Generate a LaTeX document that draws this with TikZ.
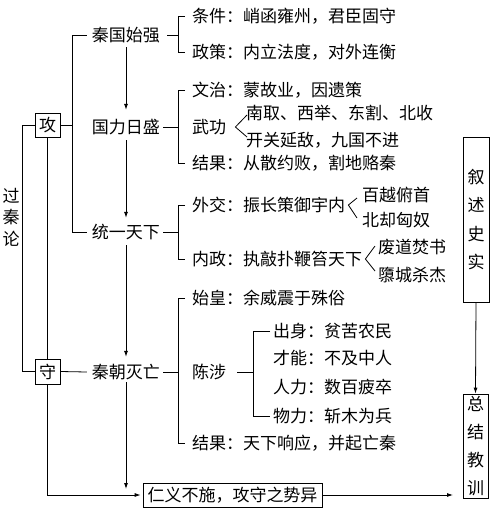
\documentclass[tikz,border=0pt]{standalone}
\usepackage{fontspec}
\setmainfont{Noto Sans CJK SC}
\usetikzlibrary{arrows.meta}
\begin{document}
\begin{tikzpicture}[x=1pt,y=-1pt,
  every node/.style={font=\fontsize{17}{20}\selectfont},
  lbl/.style={inner sep=0pt, text height=14.5pt, text depth=2.5pt, anchor=west},
  mid/.style={inner sep=0pt, text height=14.5pt, text depth=2.5pt},
  box/.style={draw, line width=0.8pt, inner sep=0pt},
  ln/.style={line width=0.8pt},
  arr/.style={line width=0.8pt, -{Latex[length=6pt,width=4pt]}}]
\fill[white] (0,0) rectangle (500,515);
\useasboundingbox (0,0) rectangle (500,515);
\coordinate (v0) at (22,0);
\coordinate (v1) at (72,0);
\coordinate (bx) at (178,0);
\coordinate (bx2) at (253,0);
% left part
\node[box, minimum width=25pt, minimum height=24pt] (gong) at (47.5,125) {攻};
\node[box, minimum width=25pt, minimum height=25pt] (shou) at (47.5,371.5) {守};
\node[align=center, inner sep=0pt, font=\fontsize{17}{21.5}\selectfont] (gql) at (11,217) {过\\秦\\论};
% main column
\node[mid] (qs) at (126,35) {秦国始强};
\node[mid] (gl) at (126,127) {国力日盛};
\node[mid] (ty) at (126,232) {统一天下};
\node[mid] (mw) at (126,372) {秦朝灭亡};
\node[box, minimum width=179pt, minimum height=24pt] (rj) at (232.5,495) {仁义不施，攻守之势异};
\node[box, minimum width=26pt, minimum height=165pt, align=center, font=\fontsize{17}{28.5}\selectfont] (xs) at (476,219.5) {叙\\述\\史\\实};
\node[box, minimum width=25pt, minimum height=104pt, align=center, font=\fontsize{17}{27.7}\selectfont] (zj) at (475.5,446) {总\\结\\教\\训};
\coordinate (endA) at (126,489);
\coordinate (endB) at (453,495);
% left connectors
\draw[ln] (gong.west) -- (gong.west -| v0) -- (shou.west -| v0) -- (shou.west);
\draw[ln] (gong.south) -- (shou.north);
\draw[ln] (gong.east) -- (gong.east -| v1);
\draw[ln] ([xshift=-5pt]qs.west) -- (qs.west -| v1) -- (ty.west -| v1) -- ([xshift=-5pt]ty.west);
\draw[ln] (shou.east) -- ([xshift=-5pt]mw.west);
\draw[arr] (shou.south) |- ([xshift=-2pt]rj.west);
% main arrows
\draw[arr] ([yshift=-3.5pt]qs.south) -- ([yshift=8.5pt]gl.north);
\draw[arr] ([yshift=-4.5pt]gl.south) -- ([yshift=5.5pt]ty.north);
\draw[arr] ([yshift=-4.5pt]ty.south) -- ([yshift=6.5pt]mw.north);
\draw[arr] ([yshift=-1.5pt]mw.south) -- (endA);
\draw[arr] (rj.east) -- (endB);
\draw[arr] (xs.south) -- (zj.north);
% branch 1
\node[lbl] (a1) at (192,16) {条件：峭函雍州，君臣固守};
\node[lbl] (a2) at (192,52) {政策：内立法度，对外连衡};
\draw[ln] ([xshift=7pt]qs.east) -- (qs.east -| bx);
\draw[ln] ([xshift=-7pt]a1.west) -- (a1.west -| bx) -- (a2.west -| bx) -- ([xshift=-7pt]a2.west);
% branch 2
\node[lbl] (b1) at (192,90) {文治：蒙故业，因遗策};
\node[lbl] (b2) at (192,127) {武功};
\node[lbl] (b3) at (192,163) {结果：从散约败，割地赂秦};
\node[lbl] (b21) at (246,113) {南取、西举、东割、北收};
\node[lbl] (b22) at (246,140) {开关延敌，九国不进};
\draw[ln] ([xshift=3pt]gl.east) -- (gl.east -| bx);
\draw[ln] ([xshift=-7pt]b1.west) -- (b1.west -| bx) -- (b3.west -| bx) -- ([xshift=-7pt]b3.west);
\draw[ln] ([xshift=1pt,yshift=-2pt]b21.west) -- ([xshift=9pt]b2.east) -- ([xshift=1pt,yshift=3pt]b22.west);
% branch 3
\node[lbl] (c1) at (192,205) {外交：振长策御宇内};
\node[lbl] (c2) at (192,259) {内政：执敲扑鞭笞天下};
\node[lbl] (c11) at (362,195) {百越俯首};
\node[lbl] (c12) at (362,220) {北却匈奴};
\node[lbl] (c21) at (378,247) {废道焚书};
\node[lbl] (c22) at (378,275) {隳城杀杰};
\draw[ln] ([xshift=3pt]ty.east) -- (ty.east -| bx);
\draw[ln] ([xshift=-7pt]c1.west) -- (c1.west -| bx) -- (c2.west -| bx) -- ([xshift=-7pt]c2.west);
\draw[ln] ([xshift=-5pt,yshift=-3pt]c11.west) -- ([xshift=3pt]c1.east) -- ([xshift=-5pt,yshift=2pt]c12.west);
\draw[ln] ([xshift=-3pt,yshift=1pt]c21.west) -- ([xshift=3pt]c2.east) -- ([xshift=-3pt,yshift=4pt]c22.west);
% branch 4
\node[lbl] (d1) at (192,298) {始皇：余威震于殊俗};
\node[lbl] (d2) at (192,372) {陈涉};
\node[lbl] (d3) at (192,443) {结果：天下响应，并起亡秦};
\draw[ln] ([xshift=3pt]mw.east) -- (mw.east -| bx);
\draw[ln] ([xshift=-7pt]d1.west) -- (d1.west -| bx) -- (d3.west -| bx) -- ([xshift=-7pt]d3.west);
\node[lbl] (e1) at (273,331) {出身：贫苦农民};
\node[lbl] (e2) at (273,358) {才能：不及中人};
\node[lbl] (e3) at (273,387) {人力：数百疲卒};
\node[lbl] (e4) at (273,416) {物力：斩木为兵};
\draw[ln] ([xshift=11pt]d2.east) -- (d2.east -| bx2);
\draw[ln] ([xshift=-3pt]e1.west) -- (e1.west -| bx2) -- (e4.west -| bx2) -- ([xshift=-3pt]e4.west);
\end{tikzpicture}
\end{document}
